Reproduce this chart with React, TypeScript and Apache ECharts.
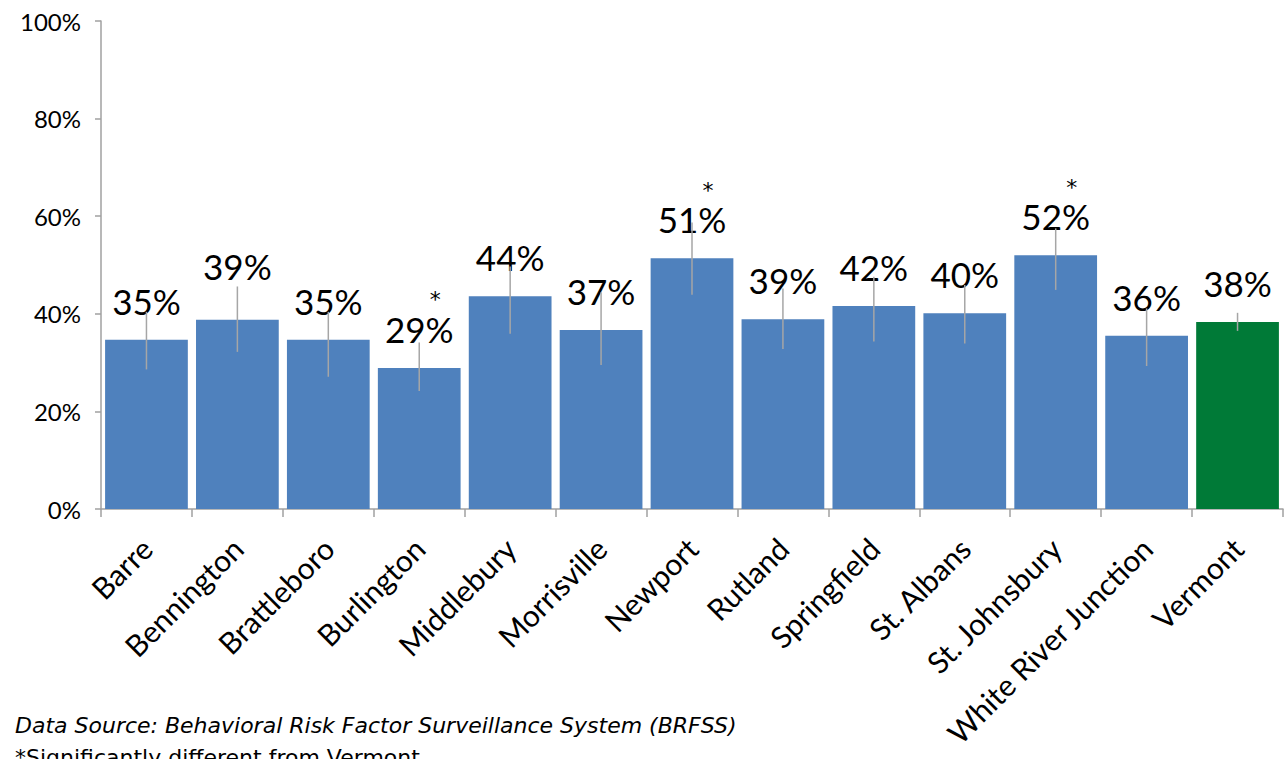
import React, { useEffect, useRef } from "react";
import * as echarts from "echarts";

const categories = [
  "Barre", "Bennington", "Brattleboro", "Burlington", "Middlebury", "Morrisville",
  "Newport", "Rutland", "Springfield", "St. Albans", "St. Johnsbury",
  "White River Junction", "Vermont",
];
const values = [34.7, 38.8, 34.7, 28.9, 43.6, 36.7, 51.4, 38.9, 41.6, 40.1, 52.0, 35.5, 38.3];
const lower = [28.6, 32.2, 27.1, 24.2, 35.9, 29.5, 43.9, 32.8, 34.3, 33.9, 44.9, 29.3, 36.5];
const upper = [40.4, 45.6, 40.4, 34.1, 49.7, 44.4, 58.7, 45.2, 47.6, 45.9, 57.5, 41.1, 40.2];
const significant = [false, false, false, true, false, false, true, false, false, false, true, false, false];
const yTicks = [0, 20, 40, 60, 80, 100];
const sourceNote = "Data Source: Behavioral Risk Factor Surveillance System (BRFSS)";
const sigNote = "*Significantly different from Vermont";

const FONT = "Lato, 'Open Sans', sans-serif";
const NOTE_FONT = "'DejaVu Sans', Lato, sans-serif";

export default function App() {
  const ref = useRef<HTMLDivElement>(null);
  useEffect(() => {
    if (!ref.current) return;
    const chart = echarts.init(ref.current, null, { renderer: "svg" });
    const barData = values.map((v, i) => ({
      value: v,
      itemStyle: { color: categories[i] === "Vermont" ? "#007A37" : "#4F81BD" },
      label: categories[i] === "Bennington" ? { distance: 36 } : undefined,
    }));
    chart.setOption({
      animation: false,
      textStyle: { fontFamily: FONT },
      grid: { left: 101, right: 3, top: 21, bottom: 250, containLabel: false },
      xAxis: {
        type: "category",
        data: categories,
        boundaryGap: true,
        axisLine: { lineStyle: { color: "#A0A0A0", width: 1.5 } },
        axisTick: { show: true, length: 8, lineStyle: { color: "#A0A0A0", width: 1.5 } },
        axisLabel: { rotate: 45, margin: 34, color: "#000", fontSize: 30, fontFamily: FONT, interval: 0 },
      },
      yAxis: {
        type: "value",
        min: yTicks[0],
        max: yTicks[yTicks.length - 1],
        interval: 20,
        splitLine: { show: false },
        axisLine: { show: true, lineStyle: { color: "#A0A0A0", width: 1.5 } },
        axisTick: { show: true, length: 6, lineStyle: { color: "#A0A0A0", width: 1.5 } },
        axisLabel: { formatter: "{value}%", color: "#000", fontSize: 24, margin: 20, fontFamily: FONT },
      },
      series: [
        {
          type: "bar",
          data: barData,
          barCategoryGap: "9%",
          z: 2,
          label: {
            show: true,
            position: "top",
            distance: 21,
            formatter: (p: any) => {
              const t = Math.round(p.value) + "%";
              return significant[p.dataIndex] ? "{s|*}\n{v|" + t + "}" : "{v|" + t + "}";
            },
            rich: {
              v: { fontSize: 35, color: "#000", fontFamily: FONT, lineHeight: 36 },
              s: { fontSize: 22, color: "#000", fontFamily: NOTE_FONT, lineHeight: 22, padding: [0, 0, 0, 32] },
            },
          },
        },
        {
          type: "custom",
          z: 5,
          data: categories.map((_, i) => [i, lower[i], upper[i]]),
          renderItem: (params: any, api: any) => {
            const lo = api.coord([api.value(0), api.value(1)]);
            const hi = api.coord([api.value(0), api.value(2)]);
            return {
              type: "line",
              shape: { x1: lo[0], y1: lo[1], x2: hi[0], y2: hi[1] },
              style: { stroke: "#A6A6A6", lineWidth: 1.5 },
            };
          },
        },
      ],
      graphic: [
        {
          type: "text",
          left: 15,
          top: 714,
          style: { text: sourceNote, fontSize: 22, fontStyle: "italic", fill: "#000", fontFamily: NOTE_FONT },
        },
        {
          type: "text",
          left: 15,
          top: 746,
          style: { text: sigNote, fontSize: 22, fill: "#000", fontFamily: NOTE_FONT },
        },
      ],
    });
    return () => chart.dispose();
  }, []);
  return (
    <div
      ref={ref}
      style={{ position: "fixed", left: 0, top: 0, width: 1286, height: 759, background: "#fff" }}
    />
  );
}
